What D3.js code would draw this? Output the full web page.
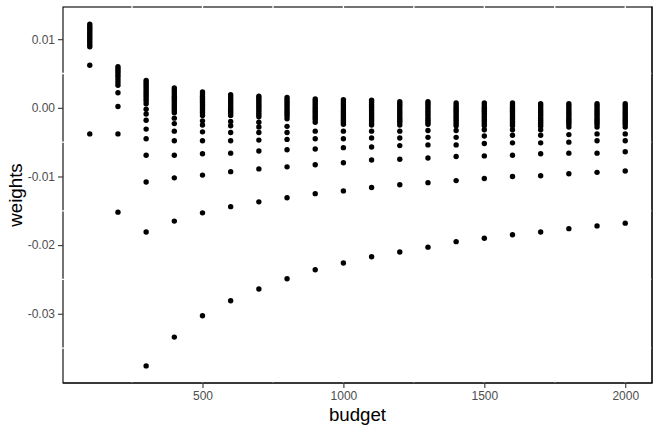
<!DOCTYPE html>
<html>
<head>
<meta charset="utf-8">
<script src="https://cdn.jsdelivr.net/npm/d3@7"></script>
<style>
  body { margin: 0; background: #fff; }
  svg { display: block; font-family: "Liberation Sans", Arial, sans-serif; }
</style>
</head>
<body>
<script>
var WIDTH = 660, HEIGHT = 432;

// budgets on the x axis, one column of weights each
var budgets = [100, 200, 300, 400, 500, 600, 700, 800, 900, 1000,
               1100, 1200, 1300, 1400, 1500, 1600, 1700, 1800, 1900, 2000];

// weights, column by column
var weightsByBudget = [
  [0.0122,0.0119,0.0116,0.0113,0.0110,0.0107,0.0104,0.0101,0.0098,0.0095,0.0092,0.0089,0.0062,-0.0038],
  [0.0060,0.0057,0.0054,0.0051,0.0048,0.0045,0.0041,0.0037,0.0033,0.0022,0.0002,-0.0038,-0.0152],
  [0.0040,0.0037,0.0034,0.0031,0.0028,0.0025,0.0022,0.0019,0.0016,0.0013,0.0010,0.0006,-0.0002,-0.0009,-0.0018,-0.0031,-0.0045,-0.0069,-0.0108,-0.0181,-0.0376],
  [0.0029,0.0026,0.0023,0.0020,0.0017,0.0014,0.0011,0.0008,0.0005,0.0002,-0.0001,-0.0004,-0.0007,-0.0015,-0.0023,-0.0034,-0.0048,-0.0069,-0.0102,-0.0165,-0.0334],
  [0.0023,0.0020,0.0017,0.0014,0.0011,0.0008,0.0005,0.0002,-0.0001,-0.0004,-0.0007,-0.0011,-0.0019,-0.0025,-0.0035,-0.0048,-0.0067,-0.0098,-0.0153,-0.0303],
  [0.0019,0.0016,0.0013,0.0010,0.0007,0.0004,0.0001,-0.0002,-0.0005,-0.0008,-0.0011,-0.0020,-0.0026,-0.0036,-0.0048,-0.0066,-0.0093,-0.0144,-0.0281],
  [0.0017,0.0014,0.0011,0.0008,0.0005,0.0002,-0.0001,-0.0004,-0.0007,-0.0010,-0.0013,-0.0021,-0.0028,-0.0036,-0.0047,-0.0063,-0.0089,-0.0137,-0.0264],
  [0.0015,0.0012,0.0009,0.0006,0.0003,0.0000,-0.0003,-0.0006,-0.0009,-0.0012,-0.0016,-0.0027,-0.0036,-0.0046,-0.0061,-0.0086,-0.0131,-0.0249],
  [0.0013,0.0010,0.0007,0.0004,0.0001,-0.0002,-0.0005,-0.0008,-0.0011,-0.0014,-0.0017,-0.0021,-0.0034,-0.0045,-0.0060,-0.0083,-0.0125,-0.0236],
  [0.0012,0.0009,0.0006,0.0003,0.0000,-0.0003,-0.0006,-0.0009,-0.0012,-0.0015,-0.0018,-0.0021,-0.0024,-0.0034,-0.0045,-0.0058,-0.0080,-0.0121,-0.0226],
  [0.0011,0.0008,0.0005,0.0002,-0.0001,-0.0004,-0.0007,-0.0010,-0.0013,-0.0016,-0.0019,-0.0022,-0.0025,-0.0034,-0.0044,-0.0057,-0.0076,-0.0116,-0.0217],
  [0.0009,0.0006,0.0003,0.0000,-0.0003,-0.0006,-0.0009,-0.0012,-0.0015,-0.0018,-0.0021,-0.0025,-0.0034,-0.0044,-0.0055,-0.0075,-0.0112,-0.0210],
  [0.0009,0.0006,0.0003,0.0000,-0.0003,-0.0006,-0.0009,-0.0012,-0.0015,-0.0018,-0.0021,-0.0024,-0.0033,-0.0043,-0.0054,-0.0073,-0.0109,-0.0203],
  [0.0007,0.0004,0.0001,-0.0002,-0.0005,-0.0008,-0.0011,-0.0014,-0.0017,-0.0020,-0.0023,-0.0026,-0.0033,-0.0043,-0.0054,-0.0071,-0.0106,-0.0195],
  [0.0007,0.0004,0.0001,-0.0002,-0.0005,-0.0008,-0.0011,-0.0014,-0.0017,-0.0020,-0.0023,-0.0026,-0.0032,-0.0041,-0.0052,-0.0070,-0.0103,-0.0190],
  [0.0007,0.0004,0.0001,-0.0002,-0.0005,-0.0008,-0.0011,-0.0014,-0.0017,-0.0020,-0.0023,-0.0026,-0.0032,-0.0040,-0.0051,-0.0069,-0.0100,-0.0185],
  [0.0006,0.0003,0.0000,-0.0003,-0.0006,-0.0009,-0.0012,-0.0015,-0.0018,-0.0021,-0.0024,-0.0027,-0.0032,-0.0040,-0.0051,-0.0067,-0.0099,-0.0181],
  [0.0006,0.0003,0.0000,-0.0003,-0.0006,-0.0009,-0.0012,-0.0015,-0.0018,-0.0021,-0.0024,-0.0028,-0.0039,-0.0050,-0.0066,-0.0096,-0.0176],
  [0.0006,0.0003,0.0000,-0.0003,-0.0006,-0.0009,-0.0012,-0.0015,-0.0018,-0.0021,-0.0024,-0.0028,-0.0038,-0.0048,-0.0066,-0.0094,-0.0172],
  [0.0006,0.0003,0.0000,-0.0003,-0.0006,-0.0009,-0.0012,-0.0015,-0.0018,-0.0021,-0.0024,-0.0028,-0.0038,-0.0048,-0.0064,-0.0092,-0.0168]
];

var xTicks = [500, 1000, 1500, 2000];
var xMinorGrid = [250, 750, 1250, 1750];
var yTicks = [0.01, 0, -0.01, -0.02, -0.03];
var yTickLabels = ["0.01", "0.00", "-0.01", "-0.02", "-0.03"];
var yMinorGrid = [0.005, -0.005, -0.015, -0.025, -0.035];

var margin = {top: 7, right: 8, bottom: 49, left: 63};
var w = WIDTH - margin.left - margin.right;
var h = HEIGHT - margin.top - margin.bottom;

var points = [];
budgets.forEach(function (b, i) {
    weightsByBudget[i].forEach(function (v) {
        points.push({budget: b, weight: v});
    });
});

// ggplot style 5% expansion
function expand(ext) {
    var pad = (ext[1] - ext[0]) * 0.05;
    return [ext[0] - pad, ext[1] + pad];
}

var x = d3.scaleLinear()
    .domain(expand(d3.extent(points, function (d) { return d.budget; })))
    .range([0, w]);
var y = d3.scaleLinear()
    .domain(expand(d3.extent(points, function (d) { return d.weight; })))
    .range([h, 0]);

var svg = d3.select("body")
    .append("svg")
    .attr("width", WIDTH)
    .attr("height", HEIGHT);

var g = svg.append("g")
    .attr("transform", "translate(" + margin.left + "," + margin.top + ")");

// panel border
g.append("rect")
    .attr("x", 0).attr("y", 0)
    .attr("width", w).attr("height", h)
    .attr("fill", "#fff")
    .attr("stroke", "#000")
    .attr("stroke-width", 1.1);

// white grid lines show only where they cut the border
g.append("g")
    .selectAll("line")
    .data(xTicks.concat(xMinorGrid))
    .enter()
    .append("line")
    .attr("x1", function (d) { return x(d); })
    .attr("x2", function (d) { return x(d); })
    .attr("y1", -1).attr("y2", h)
    .attr("stroke", "#fff")
    .attr("stroke-width", 1.3);

g.append("g")
    .selectAll("line")
    .data(yMinorGrid.filter(function (d) { return d > y.domain()[0]; }))
    .enter()
    .append("line")
    .attr("x1", -1).attr("x2", w)
    .attr("y1", function (d) { return y(d); })
    .attr("y2", function (d) { return y(d); })
    .attr("stroke", "#fff")
    .attr("stroke-width", 1.3);

// bottom and right edges stay solid
g.append("line")
    .attr("x1", 0).attr("x2", w + 0.55)
    .attr("y1", h).attr("y2", h)
    .attr("stroke", "#000").attr("stroke-width", 1.1);
g.append("line")
    .attr("x1", w).attr("x2", w)
    .attr("y1", -0.55).attr("y2", h)
    .attr("stroke", "#000").attr("stroke-width", 1.1);

// points
g.append("g")
    .selectAll("circle")
    .data(points)
    .enter()
    .append("circle")
    .attr("cx", function (d) { return x(d.budget); })
    .attr("cy", function (d) { return y(d.weight); })
    .attr("r", 2.7)
    .attr("fill", "#000");

// axes
var xAxis = g.append("g")
    .attr("transform", "translate(0," + h + ")")
    .call(d3.axisBottom(x).tickValues(xTicks).tickSize(5).tickPadding(3)
        .tickFormat(d3.format("d")));
var yAxis = g.append("g")
    .call(d3.axisLeft(y).tickValues(yTicks).tickSize(5).tickPadding(3)
        .tickFormat(function (d, i) { return yTickLabels[i]; }));

[xAxis, yAxis].forEach(function (ax) {
    ax.select(".domain").remove();
    ax.selectAll(".tick line").attr("stroke", "#333").attr("stroke-width", 1.1);
    ax.selectAll(".tick text")
        .attr("fill", "#4d4d4d")
        .style("font-size", "12px")
        .style("font-family", "'Liberation Sans', Arial, sans-serif");
});

// axis titles
svg.append("text")
    .attr("x", margin.left + w / 2)
    .attr("y", 421)
    .attr("text-anchor", "middle")
    .style("font-size", "18.7px")
    .attr("fill", "#000")
    .text("budget");

svg.append("text")
    .attr("transform", "translate(22," + (margin.top + h / 2) + ") rotate(-90)")
    .attr("text-anchor", "middle")
    .style("font-size", "18.7px")
    .attr("fill", "#000")
    .text("weights");
</script>
</body>
</html>
